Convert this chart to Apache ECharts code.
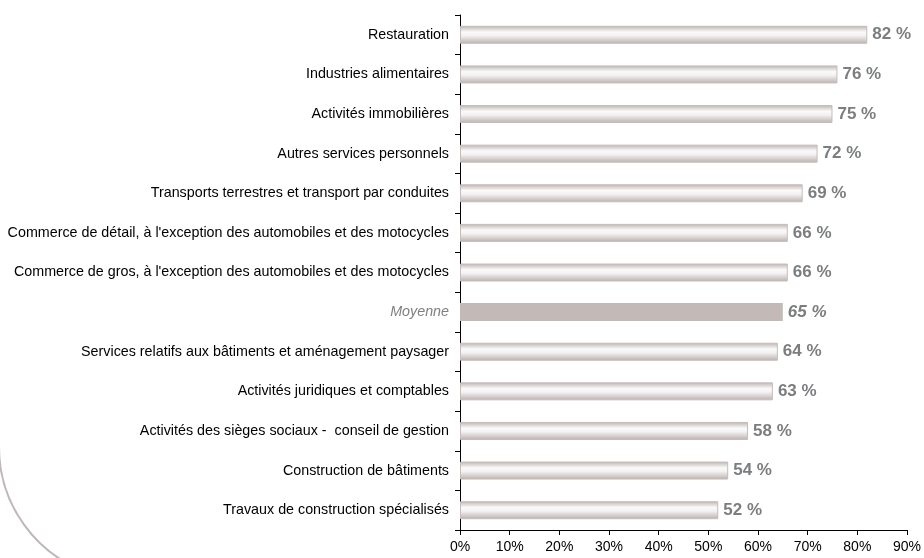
<!DOCTYPE html>
<html lang="fr">
  <head>
    <meta charset="utf-8" />
    <script src="https://cdn.jsdelivr.net/npm/echarts@6/dist/echarts.min.js"></script>
    <title>Secteurs</title>
    <style>
      html, body { margin: 0; padding: 0; background: #fff; }
      #chart { width: 924px; height: 558px; }
    </style>
  </head>
  <body>
    <div id="chart"></div>
    <script>
      // secteurs, de haut en bas
      var categories = [
        'Restauration',
        'Industries alimentaires',
        'Activités immobilières',
        'Autres services personnels',
        'Transports terrestres et transport par conduites',
        "Commerce de détail, à l'exception des automobiles et des motocycles",
        "Commerce de gros, à l'exception des automobiles et des motocycles",
        'Moyenne',
        'Services relatifs aux bâtiments et aménagement paysager',
        'Activités juridiques et comptables',
        'Activités des sièges sociaux -  conseil de gestion',
        'Construction de bâtiments',
        'Travaux de construction spécialisés'
      ]
      var values = [82, 76, 75, 72, 69, 66, 66, 65, 64, 63, 58, 54, 52]
      var xTicks = [0, 10, 20, 30, 40, 50, 60, 70, 80, 90]

      var font = '"Liberation Sans", Arial, sans-serif'
      var barFill = {
        type: 'linear', x: 0, y: 0, x2: 0, y2: 1,
        colorStops: [
          { offset: 0, color: '#bdb3b1' },
          { offset: 0.35, color: '#fbfafa' },
          { offset: 0.55, color: '#f3f1f1' },
          { offset: 1, color: '#bab0ae' }
        ]
      }

      var chart = echarts.init(document.getElementById('chart'))
      chart.setOption({
        animation: false,
        grid: { left: 460, right: 16, top: 15, bottom: 28 },
        graphic: [{
          type: 'arc',
          shape: { cx: 132, cy: 447, r: 133, startAngle: 1.9, endAngle: Math.PI },
          style: { stroke: '#c0b8b6', lineWidth: 2, fill: null },
          silent: true
        }],
        xAxis: {
          type: 'value',
          min: xTicks[0],
          max: xTicks[xTicks.length - 1],
          interval: 10,
          splitLine: { show: false },
          axisLine: { show: true, lineStyle: { color: '#000' } },
          axisTick: { show: true, length: 5, lineStyle: { color: '#000' } },
          axisLabel: { color: '#000', fontSize: 14, fontFamily: font, margin: 10, formatter: '{value}%' }
        },
        yAxis: {
          type: 'category',
          inverse: true,
          data: categories.map(function (c) {
            if (c === 'Moyenne') return { value: c, textStyle: { fontStyle: 'italic', color: '#808080' } }
            return c
          }),
          axisLine: { show: true, lineStyle: { color: '#000' } },
          axisTick: { show: true, length: 5, lineStyle: { color: '#000' } },
          axisLabel: { color: '#000', fontSize: 14.3, fontFamily: font, margin: 11 }
        },
        series: [{
          type: 'bar',
          barWidth: 18,
          data: values.map(function (v, i) {
            if (categories[i] === 'Moyenne') {
              return {
                value: v,
                itemStyle: { color: '#c3bab8', borderWidth: 0 },
                label: { fontStyle: 'italic' }
              }
            }
            return v
          }),
          itemStyle: { color: barFill, borderColor: '#c6bdbb', borderWidth: 1 },
          label: {
            show: true,
            position: 'right',
            distance: 5,
            formatter: '{c} %',
            color: '#7b7d7f',
            fontSize: 17,
            fontWeight: 'bold',
            fontFamily: font
          }
        }]
      })
    </script>
  </body>
</html>
